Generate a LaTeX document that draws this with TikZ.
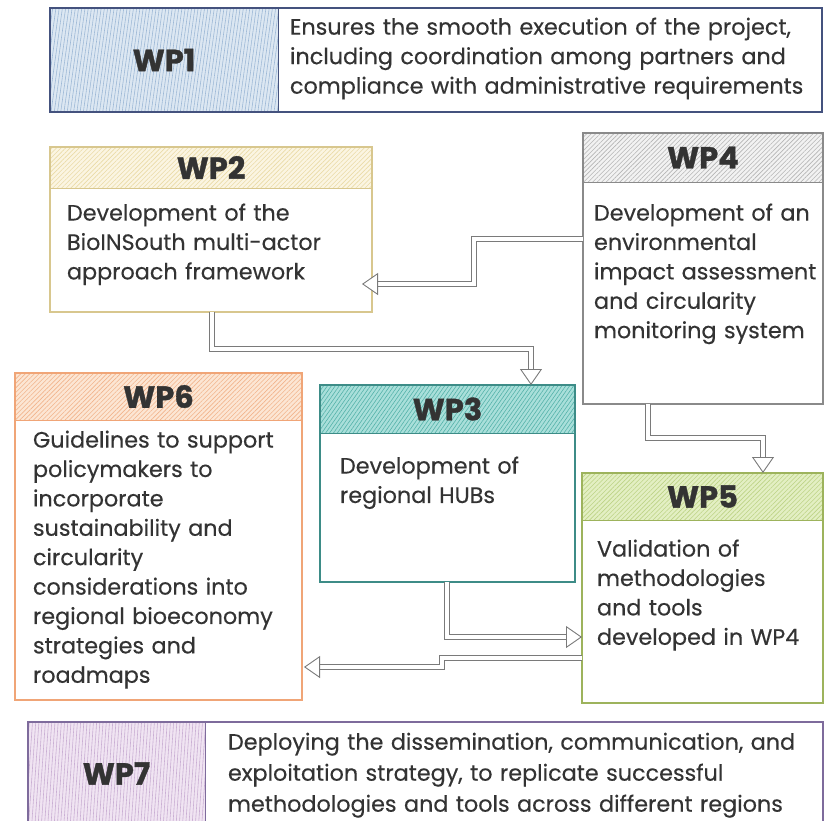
\documentclass[tikz,border=0pt]{standalone}
\usepackage{fontspec}
\setmainfont{Poppins}[UprightFeatures={FakeBold=0.35},BoldFeatures={FakeBold=1.2}]
\usetikzlibrary{patterns.meta,arrows.meta,calc}
\definecolor{txt}{HTML}{333333}
\definecolor{b1}{HTML}{44527E}\definecolor{f1}{HTML}{DCE7F2}\definecolor{l1}{HTML}{9DB8D6}
\definecolor{b2}{HTML}{D8C78E}\definecolor{f2}{HTML}{FBF5E2}\definecolor{l2}{HTML}{EADBA6}
\definecolor{b4}{HTML}{8A8A8A}\definecolor{f4}{HTML}{F2F2F2}\definecolor{l4}{HTML}{B5B5B5}
\definecolor{b6}{HTML}{F0A577}\definecolor{f6}{HTML}{FCE6D4}\definecolor{l6}{HTML}{F2B48C}
\definecolor{b3}{HTML}{3D8C87}\definecolor{f3}{HTML}{A9DFDA}\definecolor{l3}{HTML}{55B2AA}
\definecolor{b5}{HTML}{9DB35C}\definecolor{f5}{HTML}{E3EFC3}\definecolor{l5}{HTML}{BDD386}
\definecolor{b7}{HTML}{7E6B9C}\definecolor{f7}{HTML}{F0E4F2}\definecolor{l7}{HTML}{C9AED3}
\definecolor{arr}{HTML}{7A7A7A}
\begin{document}
\begin{tikzpicture}[x=1pt,y=-1pt,
  every node/.style={inner sep=0pt,outer sep=0pt,text=txt},
  hatch/.style n args={3}{fill=#1,postaction={pattern={Lines[angle=#3,distance=3.2pt,line width=0.6pt]},pattern color=#2}},
  boxshape/.style n args={2}{rectangle,anchor=north west,minimum width=#1,minimum height=#2},
  frame/.style={draw=#1,line width=1.1pt},
  head/.style={font=\fontsize{30.5}{34}\selectfont\bfseries},
  body/.style={anchor=north west,align=left,text width=#1,font=\fontsize{22.3}{29.4}\selectfont,execute at begin node=\strut},
  hollow/.style={draw=arr,line width=0.9pt,double=white,double distance=3.6pt,shorten >=13pt},
  tipst/.style={draw=arr,line width=0.9pt,-{Triangle[open,fill=white,length=16pt,width=22pt]}}]
\useasboundingbox (0,0) rectangle (825,820);
% ---------- WP1
\node[boxshape={228pt}{104pt},hatch={f1}{l1}{82},head] (wp1h) at (50,8) {WP1};
\node[boxshape={772pt}{104pt},frame=b1] (wp1) at (50,8) {};
\draw[b1,line width=1pt] (wp1h.north east) -- (wp1h.south east);
\node[body=540pt,font=\fontsize{22.3}{29.5}\selectfont] (wp1t) at (290,14)
  {Ensures the smooth execution of the project,\\including coordination among partners and\\compliance with administrative requirements};
% ---------- WP2
\node[boxshape={322pt}{41pt},hatch={f2}{l2}{45},head] (wp2h) at (50,147) {WP2};
\node[boxshape={322pt}{165pt},frame=b2] (wp2) at (50,147) {};
\draw[b2,line width=1pt] (wp2h.south west) -- (wp2h.south east);
\node[body=300pt] (wp2t) at (67,200) {Development of the\\BioINSouth multi-actor\\approach framework};
% ---------- WP4
\node[boxshape={240pt}{49pt},hatch={f4}{l4}{45},head] (wp4h) at (583,133) {WP4};
\node[boxshape={240pt}{271pt},frame=b4] (wp4) at (583,133) {};
\draw[b4,line width=1pt] (wp4h.south west) -- (wp4h.south east);
\node[body=235pt] (wp4t) at (594,200) {Development of an\\environmental\\impact assessment\\and circularity\\monitoring system};
% ---------- WP6
\node[boxshape={287pt}{47pt},hatch={f6}{l6}{45},head] (wp6h) at (15,373) {WP6};
\node[boxshape={287pt}{327pt},frame=b6] (wp6) at (15,373) {};
\draw[b6,line width=1pt] (wp6h.south west) -- (wp6h.south east);
\node[body=275pt] (wp6t) at (33,427) {Guidelines to support\\policymakers to\\incorporate\\sustainability and\\circularity\\considerations into\\regional bioeconomy\\strategies and\\roadmaps};
% ---------- WP3
\node[boxshape={255pt}{48pt},hatch={f3}{l3}{55},head] (wp3h) at (320,385) {WP3};
\node[boxshape={255pt}{197pt},frame=b3] (wp3) at (320,385) {};
\draw[b3,line width=1pt] (wp3h.south west) -- (wp3h.south east);
\node[body=230pt] (wp3t) at (340,453) {Development of\\regional HUBs};
% ---------- WP5
\node[boxshape={241pt}{47pt},hatch={f5}{l5}{45},head] (wp5h) at (582,473) {WP5};
\node[boxshape={241pt}{230pt},frame=b5] (wp5) at (582,473) {};
\draw[b5,line width=1pt] (wp5h.south west) -- (wp5h.south east);
\node[body=235pt] (wp5t) at (597,536) {Validation of\\methodologies\\and tools\\developed in WP4};
% ---------- WP7
\node[boxshape={177pt}{103pt},hatch={f7}{l7}{86},head] (wp7h) at (28,722) {WP7};
\node[boxshape={795pt}{103pt},frame=b7] (wp7) at (28,722) {};
\draw[b7,line width=1pt] (wp7h.north east) -- (wp7h.south east);
\node[body=610pt,font=\fontsize{22.3}{31}\selectfont] (wp7t) at (228,728)
  {Deploying the dissemination, communication, and\\exploitation strategy, to replicate successful\\methodologies and tools across different regions};
% ---------- connectors
\coordinate (e2) at ([xshift=-10pt]wp2.east |- 0,284);
\draw[hollow] (wp4.west |- 0,239) -- (474,239) -- (474,284) -- (e2);
\draw[tipst] ($(e2)+(1,0)$) -- (e2);
\coordinate (e3) at (wp3.north -| 531,0);
\draw[hollow] (wp2.south -| 212,0) -- (212,349) -- (531,349) -- (e3);
\draw[tipst] ($(e3)+(0,-1)$) -- (e3);
\coordinate (e5) at (wp5.north -| 763,0);
\draw[hollow] (wp4.south -| 648,0) -- (648,438) -- (763,438) -- (e5);
\draw[tipst] ($(e5)+(0,-1)$) -- (e5);
\coordinate (e5b) at (wp5.west |- 0,637);
\draw[hollow] (wp3.south -| 447,0) -- (447,637) -- (e5b);
\draw[tipst] ($(e5b)+(-1,0)$) -- (e5b);
\coordinate (e6) at ([xshift=2pt]wp6.east |- 0,667);
\draw[hollow] (wp5.west |- 0,658) -- (442,658) -- (442,667) -- (e6);
\draw[tipst] ($(e6)+(1,0)$) -- (e6);
\end{tikzpicture}
\end{document}
